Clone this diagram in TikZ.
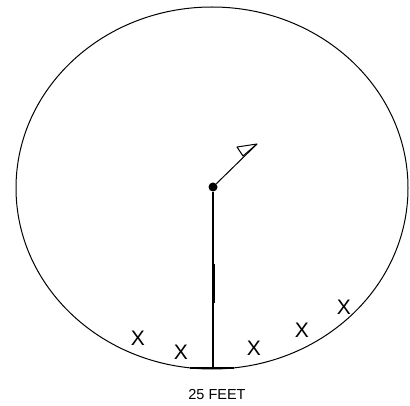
\documentclass[tikz,border=0pt]{standalone}
\usepackage{fontspec}
\setmainfont{Liberation Sans}
\usepackage{tikz}
\usetikzlibrary{positioning}

\begin{document}
\begin{tikzpicture}[
  x=1pt, y=-1pt,
  spot/.style={circle, fill=black, inner sep=0pt, minimum size=9pt},
  xmark/.style={inner sep=0pt, font={\fontsize{21pt}{23}\selectfont}},
  label/.style={inner sep=0pt, font={\fontsize{14.5pt}{16}\selectfont}},
  ray/.style={line width=1.2pt}
]
\useasboundingbox (0,0) rectangle (410,406);
% the field
\draw[line width=1pt] (212,188) ellipse [x radius=196, y radius=181];
\node[spot] (c) at (213,187) {};
\coordinate (b) at (213,368);
\coordinate (tip) at (257,144);
\coordinate (bl) at (190,368);
\coordinate (br) at (234,368);
\draw[ray] (c) -- (b);
\draw[line width=3pt] (213,264) -- (213,303);
\draw[ray] (bl) -- (br);
% flag
\draw[line width=1pt] (c) -- (tip);
\draw[line width=1pt, line join=round] (tip) -- (237,147) -- (243,156) -- cycle;
% the players
\node[xmark] (x1) at (138,338) {X};
\node[xmark] (x2) at (181,352) {X};
\node[xmark] (x3) at (254,348) {X};
\node[xmark] (x4) at (302,330) {X};
\node[xmark] (x5) at (344,307) {X};
\node[label] (t) at (217,395) {25 FEET};
\end{tikzpicture}
\end{document}
